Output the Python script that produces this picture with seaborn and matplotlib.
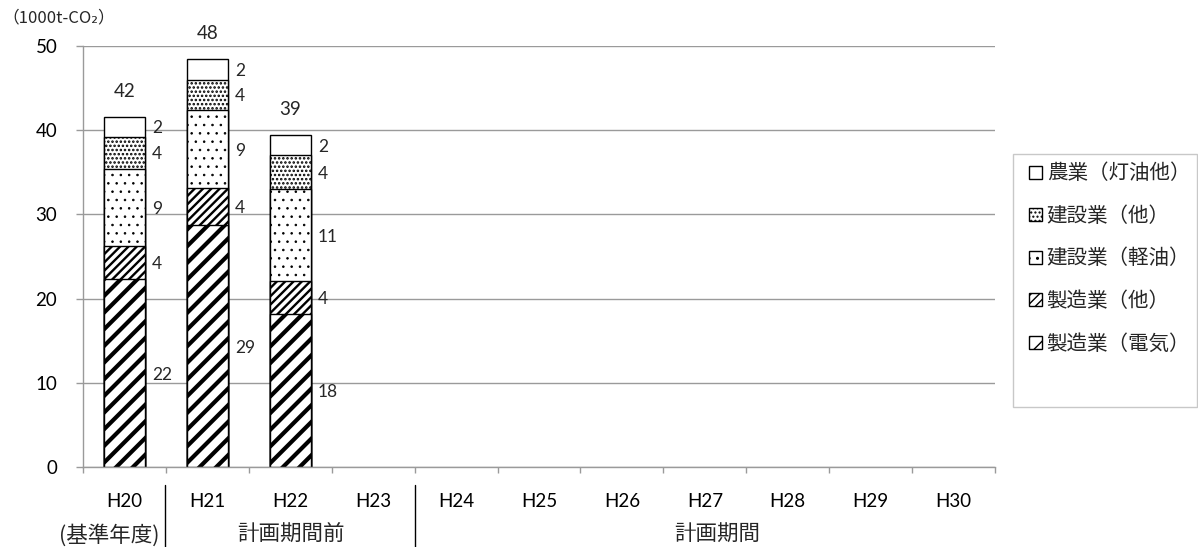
import numpy as np
import pandas as pd
import matplotlib
matplotlib.use("Agg")
import matplotlib.pyplot as plt
import seaborn as sns
from matplotlib.patches import Rectangle
from matplotlib.lines import Line2D

# Fiscal years on the x axis (Heisei era)
years = ["H20", "H21", "H22", "H23", "H24", "H25", "H26", "H27", "H28", "H29", "H30"]
data_years = ["H20", "H21", "H22"]

# Emissions by sector (1000 t-CO2)
mfg_elec = [22.3, 28.7, 18.2]       # 製造業（電気）
mfg_other = [3.9, 4.4, 3.9]         # 製造業（他）
con_diesel = [9.2, 9.3, 10.9]       # 建設業（軽油）
con_other = [3.8, 3.6, 4.0]         # 建設業（他）
agri_kerosene = [2.4, 2.4, 2.4]     # 農業（灯油他）

series_names = ["製造業（電気）", "製造業（他）", "建設業（軽油）", "建設業（他）", "農業（灯油他）"]
series_values = [mfg_elec, mfg_other, con_diesel, con_other, agri_kerosene]

period_labels = ["(基準年度)", "計画期間前", "計画期間"]
unit_label = "（1000t-CO₂）"

hatches = ["//", "////", "..", "....", ""]
hatch_widths = [3.0, 1.7, 0.6, 1.2, 1.0]

JP = ["Noto Sans CJK JP", "DejaVu Sans"]
NUM = ["Lato", "DejaVu Sans"]

sns.set_theme(style="white")
plt.rcParams["font.family"] = NUM
plt.rcParams["hatch.color"] = "black"

W, H = 1198, 547
fig = plt.figure(figsize=(W / 100, H / 100), dpi=100)
left, right, top, bottom = 83, 995, 46, 467
ax = fig.add_axes([left / W, 1 - bottom / H, (right - left) / W, (bottom - top) / H])

vals = np.array(series_values)
cum = np.cumsum(vals, axis=0)

# Stacked bars: draw cumulative totals from the top layer down so each
# lower layer covers the part of the bars behind it.
for i in reversed(range(len(series_names))):
    df = pd.DataFrame({"year": data_years, "value": cum[i]})
    n_before = len(ax.patches)
    with plt.rc_context({"hatch.linewidth": hatch_widths[i]}):
        sns.barplot(data=df, x="year", y="value", order=years, ax=ax,
                    color="white", saturation=1, edgecolor="black",
                    linewidth=1.0, hatch=hatches[i], width=0.5,
                    errorbar=None, label=series_names[i])
    for p in ax.patches[n_before:]:
        if hasattr(p, "set_hatch_linewidth"):
            p.set_hatch_linewidth(hatch_widths[i])

ax.set_xlim(-0.5, len(years) - 0.5)
ax.set_ylim(0, 50)
ax.set_yticks(np.arange(0, 51, 10))
ax.set_xlabel("")
ax.set_ylabel("")

grid_color = "#9a9a9a"
ax.yaxis.grid(True, color=grid_color, linewidth=1.0)
ax.set_axisbelow(True)
for s in ["top", "right"]:
    ax.spines[s].set_visible(False)
for s in ["left", "bottom"]:
    ax.spines[s].set_color(grid_color)
    ax.spines[s].set_linewidth(1.0)

ax.tick_params(axis="y", length=5, width=1.0, color=grid_color, pad=13.5,
               labelsize=13.5, labelcolor="black", left=True)
ax.set_xticks(range(len(years)))
ax.set_xticklabels(years)
ax.tick_params(axis="x", which="major", length=0, pad=19, labelsize=13.5, labelcolor="black")
ax.set_xticks(np.arange(-0.5, len(years), 1.0), minor=True)
ax.tick_params(axis="x", which="minor", length=4, width=1.0, color=grid_color, bottom=True)

# Segment value labels to the right of each bar and totals above
for j, yr in enumerate(data_years):
    for i in range(len(series_names)):
        mid = cum[i][j] - vals[i][j] / 2
        ax.annotate(f"{vals[i][j]:.0f}", xy=(j + 0.25, mid), xytext=(5, 0),
                    textcoords="offset points", ha="left", va="center_baseline",
                    fontsize=12.5)
    total = cum[-1][j]
    ax.annotate(f"{total:.0f}", xy=(j, total), xytext=(0, 14.5),
                textcoords="offset points", ha="center", va="baseline",
                fontsize=13.5)

# Unit label
fig.text(2 / W, 1 - 18 / H, unit_label, fontsize=12, family=JP, va="center", ha="left")

# Period group labels under the axis with separators
sep_kw = dict(color="black", linewidth=1.0, transform=fig.transFigure)
for xpix in (165, 415):
    fig.add_artist(Line2D([xpix / W, xpix / W], [1 - 485 / H, 0], **sep_kw))
for xpix, text in zip((109, 291, 717), period_labels):
    fig.text(xpix / W, 1 - 535 / H, text, fontsize=15.5, family=JP, ha="center", va="center")

# Legend with its own frame
handles, labels = ax.get_legend_handles_labels()
leg = ax.legend(handles, labels, loc="upper left",
                bbox_to_anchor=(1019 / W, 1 - 152 / H), bbox_transform=fig.transFigure,
                frameon=False, prop={"family": JP, "size": 14.8},
                handlelength=0.6, handleheight=0.6, handletextpad=0.25,
                labelspacing=1.0, borderpad=0.0)
fig.add_artist(Rectangle((1013 / W, 1 - 407 / H), (1197 - 1013) / W, (407 - 154) / H,
                         transform=fig.transFigure, facecolor="none",
                         edgecolor="#c8c8c8", linewidth=1.0))

fig.savefig("out.png", dpi=100)
